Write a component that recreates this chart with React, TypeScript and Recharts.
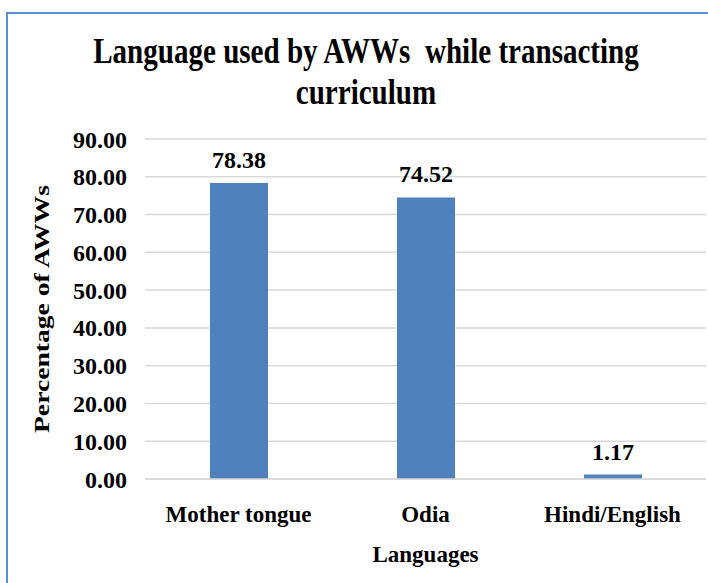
import { BarChart, Bar, XAxis, YAxis, CartesianGrid, LabelList } from "recharts"

const categories = ["Mother tongue", "Odia", "Hindi/English"]
const percentages = [78.38, 74.52, 1.17]
const yTicks = [0, 10, 20, 30, 40, 50, 60, 70, 80, 90]

const data = categories.map((name, i) => ({ name, value: percentages[i] }))

const FONT = '"Liberation Serif", "Times New Roman", serif'
const BAR_COLOR = "#4f81bd"
const GRID_COLOR = "#d9d9d9"

const renderYLabel = () => (
  <text
    x={49}
    y={309}
    transform="rotate(-90 49 309)"
    textAnchor="middle"
    fontFamily={FONT}
    fontWeight="bold"
    fontSize={22}
    fill="#000"
    textLength={248}
    lengthAdjust="spacingAndGlyphs"
  >
    Percentage of AWWs
  </text>
)

export default function App() {
  return (
    <div style={{ position: "absolute", left: 0, top: 0, width: 708, height: 583, background: "#fff", overflow: "hidden" }}>
      {/* blue frame, only top and left edges are visible in the crop */}
      <div
        style={{
          position: "absolute",
          left: 6,
          top: 12,
          width: 720,
          height: 600,
          borderTop: "2px solid #5b8edb",
          borderLeft: "2px solid #5b8edb",
        }}
      />
      <div
        style={{
          position: "absolute",
          left: 366 - 350,
          top: 31,
          width: 700,
          textAlign: "center",
          fontFamily: FONT,
          fontWeight: "bold",
          fontSize: 35,
          lineHeight: "41px",
          color: "#000",
          whiteSpace: "pre",
          transform: "scaleX(0.83)",
          transformOrigin: "350px 0",
        }}
      >
        {"Language used by AWWs  while transacting\ncurriculum"}
      </div>
      <div style={{ position: "absolute", left: 0, top: 0 }}>
        <BarChart width={708} height={583} data={data} margin={{ top: 139, right: 2, bottom: 0, left: 0 }}>
          <CartesianGrid vertical={false} stroke={GRID_COLOR} strokeWidth={1.5} />
          <XAxis
            dataKey="name"
            height={104}
            tickSize={0}
            tickMargin={27}
            axisLine={{ stroke: GRID_COLOR, strokeWidth: 1.5 }}
            tickLine={false}
            tick={{ fontFamily: FONT, fontWeight: "bold", fontSize: 23, fill: "#000" }}
            label={{
              value: "Languages",
              position: "insideBottom",
              offset: 21,
              fontFamily: FONT,
              fontWeight: "bold",
              fontSize: 23,
              fill: "#000",
            }}
          />
          <YAxis
            width={145}
            domain={[0, 90]}
            ticks={yTicks}
            tickFormatter={(v: number) => v.toFixed(2)}
            tickSize={0}
            tickMargin={18}
            axisLine={false}
            tickLine={false}
            tick={{ fontFamily: FONT, fontWeight: "bold", fontSize: 24, fill: "#000" }}
            label={renderYLabel}
          />
          <Bar dataKey="value" fill={BAR_COLOR} barSize={58} isAnimationActive={false}>
            <LabelList
              dataKey="value"
              position="top"
              offset={15}
              formatter={(v: number) => v.toFixed(2)}
              style={{ fontFamily: FONT, fontWeight: "bold", fontSize: 24, fill: "#000" }}
            />
          </Bar>
        </BarChart>
      </div>
    </div>
  )
}
